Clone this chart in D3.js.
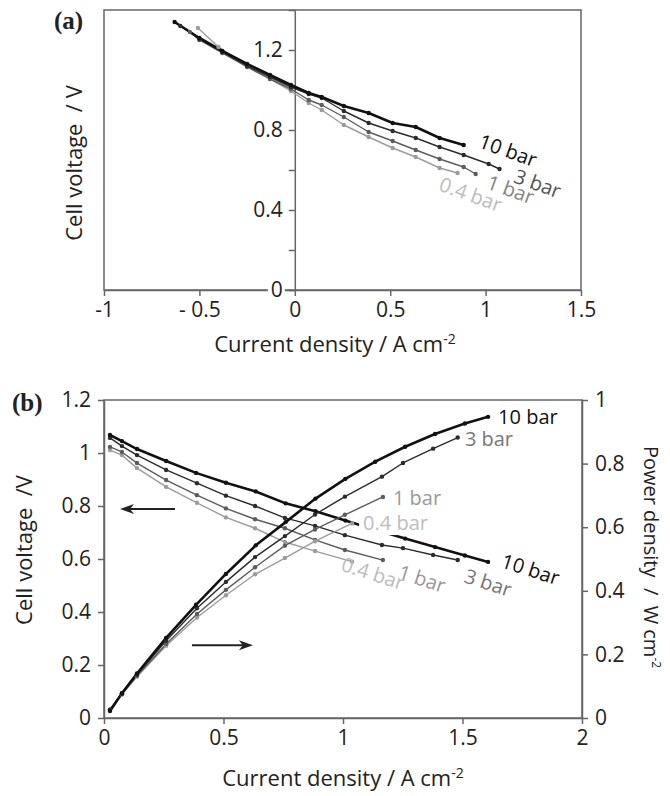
<!DOCTYPE html>
<html>
<head>
<meta charset="utf-8">
<script src="https://cdn.jsdelivr.net/npm/d3@7.9.0/dist/d3.min.js"></script>
<style>
  body { margin: 0; background: #fff; }
  svg text { font-family: "Open Sans", "Noto Sans", sans-serif; }
</style>
</head>
<body>
<svg id="chart" width="670" height="796"></svg>
<script>
// ---- data ----
const pressures = ['10 bar', '3 bar', '1 bar', '0.4 bar'];

// panel (a): cell voltage vs current density
const aCurrent10 = [-0.63, -0.5, -0.38, -0.25, -0.13, -0.02, 0.073, 0.141, 0.257, 0.387, 0.513, 0.634, 0.759, 0.885];
const aVoltage10 = [1.34, 1.26, 1.195, 1.13, 1.075, 1.025, 0.985, 0.965, 0.92, 0.885, 0.835, 0.815, 0.76, 0.725];
const aCurrent3 = [-0.6, -0.5, -0.38, -0.25, -0.13, -0.02, 0.073, 0.141, 0.257, 0.387, 0.513, 0.634, 0.759, 0.885, 1.016, 1.073];
const aVoltage3 = [1.32, 1.255, 1.19, 1.12, 1.065, 1.015, 0.98, 0.96, 0.895, 0.835, 0.795, 0.76, 0.715, 0.675, 0.63, 0.605];
const aCurrent1 = [-0.55, -0.5, -0.38, -0.25, -0.13, -0.02, 0.073, 0.141, 0.257, 0.387, 0.513, 0.634, 0.759, 0.885, 0.948];
const aVoltage1 = [1.29, 1.25, 1.185, 1.115, 1.055, 1.005, 0.95, 0.925, 0.865, 0.79, 0.745, 0.70, 0.655, 0.615, 0.58];
const aCurrent04 = [-0.508, -0.4, -0.25, -0.13, -0.02, 0.073, 0.141, 0.257, 0.387, 0.513, 0.634, 0.759, 0.853];
const aVoltage04 = [1.31, 1.215, 1.12, 1.055, 0.995, 0.935, 0.9, 0.825, 0.765, 0.71, 0.665, 0.61, 0.585];

// panel (b): cell voltage and power density vs current density
const bCurrent10 = [0.025, 0.075, 0.138, 0.26, 0.385, 0.51, 0.635, 0.76, 0.885, 1.01, 1.135, 1.26, 1.385, 1.51, 1.607];
const bVoltage10 = [1.068, 1.045, 1.015, 0.97, 0.925, 0.888, 0.855, 0.81, 0.78, 0.745, 0.71, 0.677, 0.645, 0.613, 0.589];
const bPower10 = [0.022, 0.078, 0.14, 0.252, 0.356, 0.453, 0.543, 0.616, 0.69, 0.752, 0.806, 0.853, 0.893, 0.926, 0.947];
const bCurrent3 = [0.025, 0.075, 0.138, 0.26, 0.389, 0.51, 0.632, 0.757, 0.883, 1.008, 1.163, 1.251, 1.377, 1.48];
const bVoltage3 = [1.057, 1.026, 0.992, 0.936, 0.886, 0.839, 0.8, 0.755, 0.725, 0.69, 0.653, 0.641, 0.615, 0.596];
const bPower3 = [0.026, 0.077, 0.137, 0.243, 0.345, 0.428, 0.506, 0.572, 0.64, 0.696, 0.759, 0.802, 0.847, 0.882];
const bCurrent1 = [0.025, 0.075, 0.138, 0.26, 0.389, 0.51, 0.632, 0.757, 0.883, 1.008, 1.167];
const bVoltage1 = [1.023, 1.004, 0.962, 0.898, 0.841, 0.791, 0.75, 0.716, 0.672, 0.634, 0.596];
const bPower1 = [0.026, 0.075, 0.133, 0.233, 0.327, 0.403, 0.474, 0.542, 0.593, 0.639, 0.695];
const bCurrent04 = [0.025, 0.075, 0.138, 0.26, 0.389, 0.51, 0.632, 0.757, 0.883, 1.038];
const bVoltage04 = [1.011, 0.992, 0.943, 0.872, 0.812, 0.757, 0.716, 0.664, 0.63, 0.59];
const bPower04 = [0.025, 0.074, 0.13, 0.227, 0.316, 0.386, 0.452, 0.503, 0.556, 0.612];

// ticks
const aXTicks = [-1, -0.5, 0, 0.5, 1, 1.5];
const aXTickLabels = ['-1', '- 0.5', '0', '0.5', '1', '1.5'];
const aYTicks = [0, 0.2, 0.4, 0.6, 0.8, 1.0, 1.2, 1.4];
const aYTickLabels = ['0', '', '0.4', '', '0.8', '', '1.2', ''];
const bXTicks = [0, 0.5, 1, 1.5, 2];
const bXTickLabels = ['0', '0.5', '1', '1.5', '2'];
const bYTicks = [0, 0.2, 0.4, 0.6, 0.8, 1, 1.2];
const bYTickLabels = ['0', '0.2', '0.4', '0.6', '0.8', '1', '1.2'];
const bPTicks = [0, 0.2, 0.4, 0.6, 0.8, 1];
const bPTickLabels = ['0', '0.2', '0.4', '0.6', '0.8', '1'];

// ---- styles ----
const style = {
  '10 bar': { line: '#111', width: 2.6, r: 2.2 },
  '3 bar': { line: '#2b2b2b', width: 1.4, r: 2.2 },
  '1 bar': { line: '#5c5c5c', width: 1.4, r: 2.2 },
  '0.4 bar': { line: '#9c9c9c', width: 1.4, r: 2.2 },
};
const labelColorA = { '10 bar': '#111', '3 bar': '#555', '1 bar': '#858585', '0.4 bar': '#bdbdbd' };
const labelColorB = { '10 bar': '#111', '3 bar': '#777', '1 bar': '#999', '0.4 bar': '#bdbdbd' };
const frameColor = '#666';

const zip = (xs, ys) => xs.map((x, k) => ({ x, y: ys[k] }));

const seriesA = [
  { name: pressures[0], pts: zip(aCurrent10, aVoltage10) },
  { name: pressures[1], pts: zip(aCurrent3, aVoltage3) },
  { name: pressures[2], pts: zip(aCurrent1, aVoltage1) },
  { name: pressures[3], pts: zip(aCurrent04, aVoltage04) },
];
const seriesBV = [
  { name: pressures[0], pts: zip(bCurrent10, bVoltage10) },
  { name: pressures[1], pts: zip(bCurrent3, bVoltage3) },
  { name: pressures[2], pts: zip(bCurrent1, bVoltage1) },
  { name: pressures[3], pts: zip(bCurrent04, bVoltage04) },
];
const seriesBP = [
  { name: pressures[0], pts: zip(bCurrent10, bPower10) },
  { name: pressures[1], pts: zip(bCurrent3, bPower3) },
  { name: pressures[2], pts: zip(bCurrent1, bPower1) },
  { name: pressures[3], pts: zip(bCurrent04, bPower04) },
];

const svg = d3.select('#chart');

function styleAxis(g) {
  g.select('.domain').attr('stroke', frameColor).attr('stroke-width', 1.5);
  g.selectAll('.tick line').attr('stroke', frameColor).attr('stroke-width', 1.5);
  g.selectAll('.tick text').attr('fill', '#222').style('font-size', '21px');
}

function drawSeries(g, series, x, y) {
  // draw back to front so 10 bar sits on top
  const ordered = series.slice().reverse();
  const line = d3.line().x(d => x(d.x)).y(d => y(d.y));
  g.selectAll(null).data(ordered).join('path')
    .attr('d', d => line(d.pts))
    .attr('fill', 'none')
    .attr('stroke', d => style[d.name].line)
    .attr('stroke-width', d => style[d.name].width)
    .attr('stroke-linejoin', 'round');
  ordered.forEach(s => {
    g.append('g').selectAll('circle').data(s.pts).join('circle')
      .attr('cx', d => x(d.x))
      .attr('cy', d => y(d.y))
      .attr('r', style[s.name].r)
      .attr('fill', style[s.name].line);
  });
}

function addLabels(g, labels, colors, x, y) {
  labels.forEach(l => {
    const t = g.append('text')
      .attr('transform', `translate(${x(l.x)},${y(l.y)}) rotate(${l.rot})`)
      .attr('fill', colors[l.name])
      .style('font-size', '20px')
      .text(l.name);
    if (l.bg) {
      const b = t.node().getBBox();
      g.insert('rect', () => t.node())
        .attr('transform', `translate(${x(l.x)},${y(l.y)}) rotate(${l.rot})`)
        .attr('x', b.x - 4).attr('y', b.y + 1)
        .attr('width', b.width + 6).attr('height', b.height - 2)
        .attr('fill', '#fff');
    }
  });
}

function addTitle(g, transform, main, sup, size = 22) {
  const t = g.append('text')
    .attr('transform', transform)
    .attr('text-anchor', 'middle').attr('fill', '#222').style('font-size', size + 'px')
    .attr('xml:space', 'preserve');
  t.append('tspan').text(main);
  if (sup) t.append('tspan').attr('dy', -0.38 * size).style('font-size', Math.round(size * 0.62) + 'px').text(sup);
}

// ================= panel (a) =================
const ax = d3.scaleLinear().domain([-1, 1.5]).range([104, 581]);
const ay = d3.scaleLinear().domain([0, 1.4]).range([290, 10]);
const ga = svg.append('g');

ga.append('rect')
  .attr('x', ax(-1)).attr('y', ay(1.4))
  .attr('width', ax(1.5) - ax(-1)).attr('height', ay(0) - ay(1.4))
  .attr('fill', 'none').attr('stroke', frameColor).attr('stroke-width', 1.5);

ga.append('g')
  .attr('transform', `translate(0,${ay(0)})`)
  .call(d3.axisBottom(ax).tickValues(aXTicks).tickSize(6).tickSizeOuter(0).tickPadding(6)
    .tickFormat((d, i) => aXTickLabels[i]))
  .call(styleAxis);

const ayAxis = ga.append('g')
  .attr('transform', `translate(${ax(0)},0)`)
  .call(d3.axisLeft(ay).tickValues(aYTicks).tickSize(6).tickSizeOuter(0).tickPadding(6)
    .tickFormat((d, i) => aYTickLabels[i]))
  .call(styleAxis);
// white patch behind the "0" label where it sits on the bottom frame
ayAxis.selectAll('.tick').filter(d => d === 0).each(function () {
  const t = d3.select(this).select('text');
  const b = t.node().getBBox();
  d3.select(this).insert('rect', 'text')
    .attr('x', b.x - 3).attr('y', b.y + 3).attr('width', b.width + 5).attr('height', b.height - 6)
    .attr('fill', '#fff');
});

drawSeries(ga.append('g'), seriesA, ax, ay);

const aLabels = [
  { name: '10 bar', x: 0.958, y: 0.715, rot: 20 },
  { name: '3 bar', x: 1.141, y: 0.54, rot: 20 },
  { name: '1 bar', x: 1.0, y: 0.51, rot: 20 },
  { name: '0.4 bar', x: 0.749, y: 0.5, rot: 20 },
];
addLabels(ga, aLabels, labelColorA, ax, ay);

ga.append('text').attr('x', 54).attr('y', 29)
  .style('font-family', '"Liberation Serif", "DejaVu Serif", serif')
  .style('font-weight', 'bold').style('font-size', '25px').attr('fill', '#222')
  .text('(a)');

addTitle(ga, `translate(82,${(ay(0) + ay(1.4)) / 2 + 13}) rotate(-90)`, 'Cell voltage  / V');
addTitle(ga, 'translate(335,352)', 'Current density / A cm', '-2');

// ================= panel (b) =================
const bx = d3.scaleLinear().domain([0, 2]).range([104, 582]);
const byV = d3.scaleLinear().domain([0, 1.2]).range([718, 400]);
const byP = d3.scaleLinear().domain([0, 1]).range([718, 400]);
const gb = svg.append('g');

gb.append('rect')
  .attr('x', bx(0)).attr('y', byV(1.2))
  .attr('width', bx(2) - bx(0)).attr('height', byV(0) - byV(1.2))
  .attr('fill', 'none').attr('stroke', frameColor).attr('stroke-width', 1.5);

gb.append('g')
  .attr('transform', `translate(0,${byV(0)})`)
  .call(d3.axisBottom(bx).tickValues(bXTicks).tickSize(6).tickSizeOuter(0).tickPadding(6)
    .tickFormat((d, i) => bXTickLabels[i]))
  .call(styleAxis);
gb.append('g')
  .attr('transform', `translate(${bx(0)},0)`)
  .call(d3.axisLeft(byV).tickValues(bYTicks).tickSize(6).tickSizeOuter(0).tickPadding(7)
    .tickFormat((d, i) => bYTickLabels[i]))
  .call(styleAxis);
gb.append('g')
  .attr('transform', `translate(${bx(2)},0)`)
  .call(d3.axisRight(byP).tickValues(bPTicks).tickSize(6).tickSizeOuter(0).tickPadding(7)
    .tickFormat((d, i) => bPTickLabels[i]))
  .call(styleAxis);

drawSeries(gb.append('g'), seriesBV, bx, byV);
drawSeries(gb.append('g'), seriesBP, bx, byP);

const bPowerLabels = [
  { name: '10 bar', x: 1.649, y: 0.925, rot: 0 },
  { name: '3 bar', x: 1.51, y: 0.855, rot: 0 },
  { name: '1 bar', x: 1.209, y: 0.67, rot: 0 },
  { name: '0.4 bar', x: 1.084, y: 0.591, rot: 0, bg: true },
];
const bVoltLabels = [
  { name: '10 bar', x: 1.657, y: 0.57, rot: 18 },
  { name: '3 bar', x: 1.502, y: 0.513, rot: 18 },
  { name: '1 bar', x: 1.226, y: 0.528, rot: 18 },
  { name: '0.4 bar', x: 0.987, y: 0.558, rot: 18 },
];
addLabels(gb, bPowerLabels, labelColorB, bx, byP);
addLabels(gb, bVoltLabels, labelColorB, bx, byV);

// arrows telling which axis each family belongs to (x in A cm-2, y in V)
const arrows = [
  { from: [0.297, 0.789], to: [0.067, 0.789] },
  { from: [0.368, 0.275], to: [0.623, 0.275] },
];
arrows.forEach(a => {
  const x0 = bx(a.from[0]), x1 = bx(a.to[0]), yy = byV(a.from[1]);
  const dir = Math.sign(x1 - x0);
  gb.append('line')
    .attr('x1', x0).attr('y1', yy).attr('x2', x1 - dir * 8).attr('y2', yy)
    .attr('stroke', '#222').attr('stroke-width', 2);
  gb.append('path')
    .attr('d', `M${x1},${yy} L${x1 - dir * 14},${yy - 5} L${x1 - dir * 10},${yy} L${x1 - dir * 14},${yy + 5} Z`)
    .attr('fill', '#222');
});

gb.append('text').attr('x', 12).attr('y', 411)
  .style('font-family', '"Liberation Serif", "DejaVu Serif", serif')
  .style('font-weight', 'bold').style('font-size', '25px').attr('fill', '#222')
  .text('(b)');

addTitle(gb, 'translate(32,550) rotate(-90)', 'Cell voltage  /V');
addTitle(gb, 'translate(644,557) rotate(90)', 'Power density  /  W cm', '-2', 20);
addTitle(gb, 'translate(343,786)', 'Current density / A cm', '-2');
</script>
</body>
</html>
